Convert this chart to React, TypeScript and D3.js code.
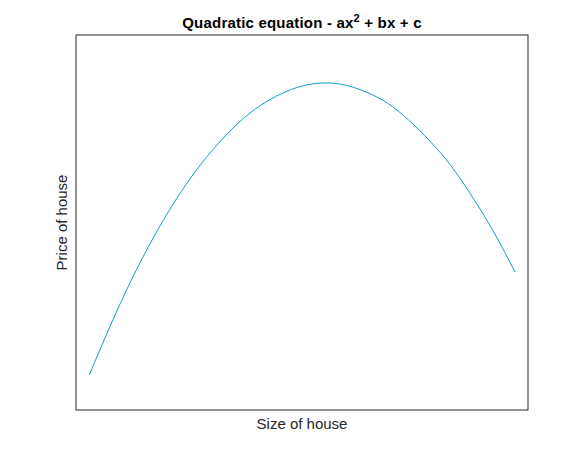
import React from "react";
import * as d3 from "d3";

// sample points (size index, price)
const sizes = [0, 1, 2, 3, 4, 5, 6, 7, 8, 9, 10, 11, 12, 13, 14, 15, 16, 17, 18, 19, 20];
const prices = [35, 85, 131, 172, 208, 239, 265, 287, 304, 316, 324, 327, 325, 318, 307, 290, 269, 244, 213, 178, 138];

const titleText = "Quadratic equation - ax";
const xLabel = "Size of house";
const yLabel = "Price of house";

const W = 583;
const H = 462;
const box = { left: 76, right: 528, top: 35, bottom: 410 };

export default function App() {
    const x = d3.scaleLinear().domain([-0.625, 20.61]).range([box.left, box.right]);
    const y = d3.scaleLinear().domain([0, 375]).range([box.bottom, box.top]);

    const points: [number, number][] = sizes.map((s, i) => [s, prices[i]]);
    const line = d3.line<[number, number]>()
        .x(d => x(d[0]))
        .y(d => y(d[1]))
        .curve(d3.curveNatural);

    const cx = (box.left + box.right) / 2;
    const cy = (box.top + box.bottom) / 2;

    return (
        <svg width={W} height={H} style={{ position: "absolute", left: 0, top: 0, fontFamily: "'Liberation Sans', Arial, sans-serif" }}>
            <rect x={0} y={0} width={W} height={H} fill="#fff" />
            <rect x={box.left} y={box.top} width={box.right - box.left} height={box.bottom - box.top}
                fill="#fff" stroke="#262626" strokeWidth={1} />
            <path d={line(points) ?? ""} fill="none" stroke="#12a0c6" strokeWidth={1} />
            <text x={cx} y={28} textAnchor="middle" fontSize={15} fontWeight="bold" fill="#000" letterSpacing={0.2}>
                {titleText}
                <tspan fontSize={11} dy={-6}>2</tspan>
                <tspan dy={6}> + bx + c</tspan>
            </text>
            <text x={cx} y={429} textAnchor="middle" fontSize={15} fill="#262626">{xLabel}</text>
            <text transform={`translate(67, ${cy}) rotate(-90)`} textAnchor="middle" fontSize={15} fill="#262626">{yLabel}</text>
        </svg>
    );
}
